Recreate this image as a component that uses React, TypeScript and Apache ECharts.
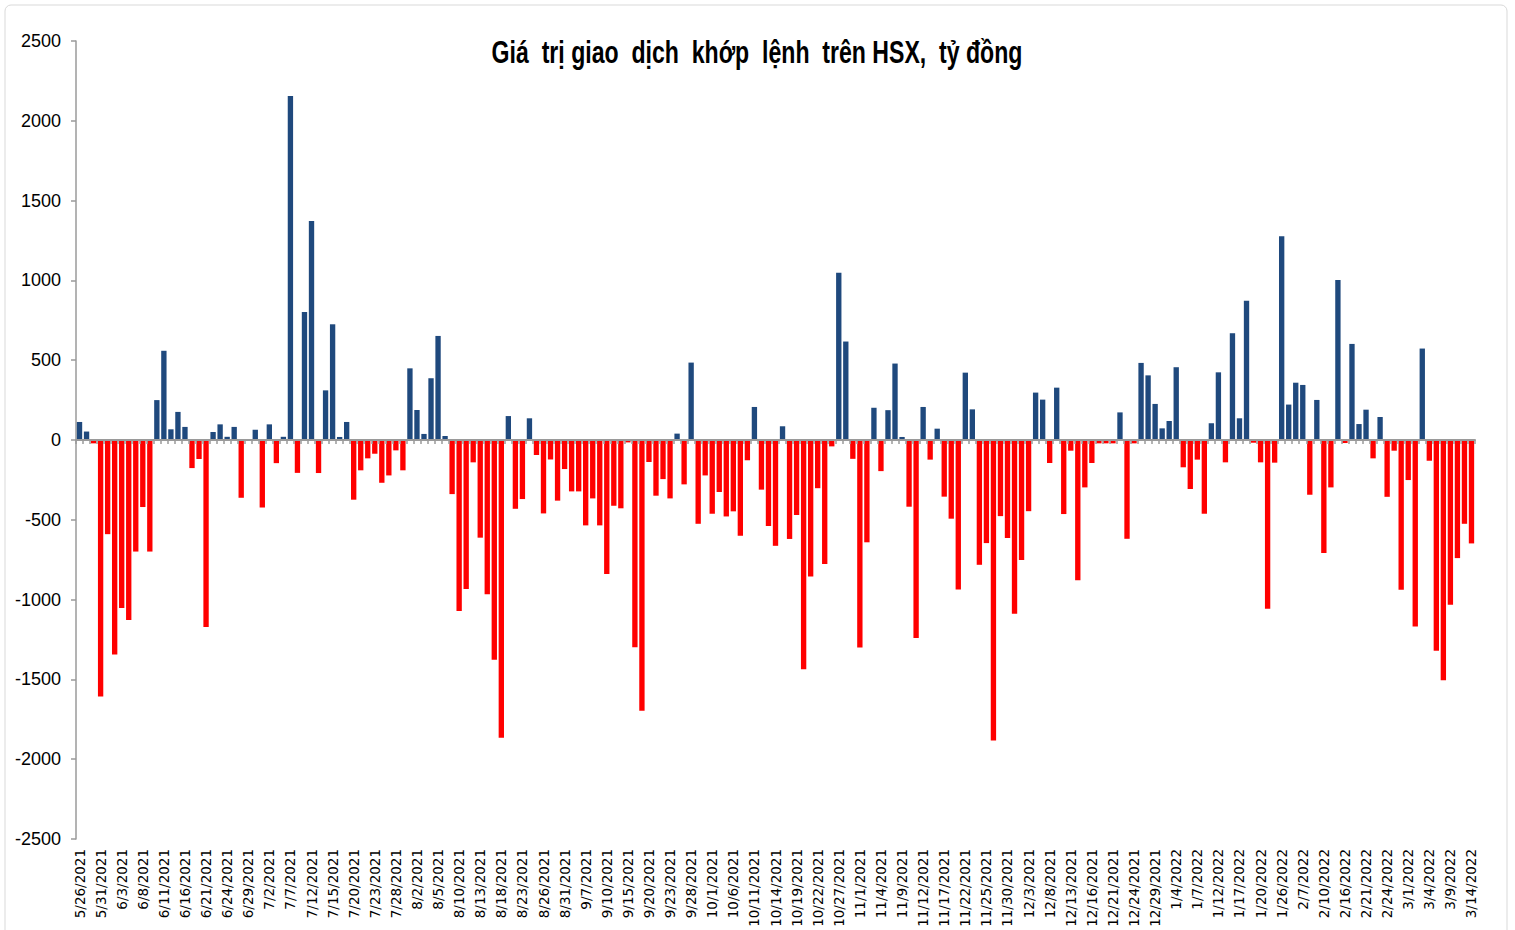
import React, { useEffect, useRef } from "react";
import * as echarts from "echarts";

const dates: string[] = [
  "5/26/2021", "5/27/2021", "5/28/2021", "5/31/2021",
  "6/1/2021", "6/2/2021", "6/3/2021", "6/4/2021", "6/7/2021", "6/8/2021", "6/9/2021", "6/10/2021", "6/11/2021",
  "6/14/2021", "6/15/2021", "6/16/2021", "6/17/2021", "6/18/2021", "6/21/2021", "6/22/2021", "6/23/2021", "6/24/2021",
  "6/25/2021", "6/28/2021", "6/29/2021", "6/30/2021",
  "7/1/2021", "7/2/2021", "7/5/2021", "7/6/2021", "7/7/2021", "7/8/2021", "7/9/2021", "7/12/2021", "7/13/2021",
  "7/14/2021", "7/15/2021", "7/16/2021", "7/19/2021", "7/20/2021", "7/21/2021", "7/22/2021", "7/23/2021",
  "7/26/2021", "7/27/2021", "7/28/2021", "7/29/2021", "7/30/2021",
  "8/2/2021", "8/3/2021", "8/4/2021", "8/5/2021", "8/6/2021", "8/9/2021", "8/10/2021", "8/11/2021", "8/12/2021",
  "8/13/2021", "8/16/2021", "8/17/2021", "8/18/2021", "8/19/2021", "8/20/2021", "8/23/2021", "8/24/2021",
  "8/25/2021", "8/26/2021", "8/27/2021", "8/30/2021", "8/31/2021",
  "9/1/2021", "9/6/2021", "9/7/2021", "9/8/2021", "9/9/2021", "9/10/2021", "9/13/2021", "9/14/2021", "9/15/2021",
  "9/16/2021", "9/17/2021", "9/20/2021", "9/21/2021", "9/22/2021", "9/23/2021", "9/24/2021", "9/27/2021",
  "9/28/2021", "9/29/2021", "9/30/2021",
  "10/1/2021", "10/4/2021", "10/5/2021", "10/6/2021", "10/7/2021", "10/8/2021", "10/11/2021", "10/12/2021",
  "10/13/2021", "10/14/2021", "10/15/2021", "10/18/2021", "10/19/2021", "10/20/2021", "10/21/2021", "10/22/2021",
  "10/25/2021", "10/26/2021", "10/27/2021", "10/28/2021", "10/29/2021",
  "11/1/2021", "11/2/2021", "11/3/2021", "11/4/2021", "11/5/2021", "11/8/2021", "11/9/2021", "11/10/2021",
  "11/11/2021", "11/12/2021", "11/15/2021", "11/16/2021", "11/17/2021", "11/18/2021", "11/19/2021", "11/22/2021",
  "11/23/2021", "11/24/2021", "11/25/2021", "11/26/2021", "11/29/2021", "11/30/2021",
  "12/1/2021", "12/2/2021", "12/3/2021", "12/6/2021", "12/7/2021", "12/8/2021", "12/9/2021", "12/10/2021",
  "12/13/2021", "12/14/2021", "12/15/2021", "12/16/2021", "12/17/2021", "12/20/2021", "12/21/2021", "12/22/2021",
  "12/23/2021", "12/24/2021", "12/27/2021", "12/28/2021", "12/29/2021", "12/30/2021", "12/31/2021",
  "1/4/2022", "1/5/2022", "1/6/2022", "1/7/2022", "1/10/2022", "1/11/2022", "1/12/2022", "1/13/2022", "1/14/2022",
  "1/17/2022", "1/18/2022", "1/19/2022", "1/20/2022", "1/21/2022", "1/25/2022", "1/26/2022", "1/27/2022", "1/28/2022",
  "2/7/2022", "2/8/2022", "2/9/2022", "2/10/2022", "2/11/2022", "2/14/2022", "2/16/2022", "2/17/2022", "2/18/2022",
  "2/21/2022", "2/22/2022", "2/23/2022", "2/24/2022", "2/25/2022", "2/28/2022",
  "3/1/2022", "3/2/2022", "3/3/2022", "3/4/2022", "3/7/2022", "3/8/2022", "3/9/2022", "3/10/2022", "3/11/2022",
  "3/14/2022",
];

const netValues: number[] = [
  113, 53, -21, -1607, -590, -1344, -1052, -1128, -699, -420, -699, 250, 559, 67, 176, 82, -176,
  -119, -1172, 50, 98, 20, 82, -362, 0, 65, -423, 98, -145, 20, 2156, -206, 802, 1372,
  -207, 311, 725, 19, 113, -374, -190, -115, -86, -268, -222, -65, -190, 449, 188, 38, 387,
  652, 25, -339, -1072, -934, -140, -612, -966, -1377, -1866, 150, -431, -370, 136, -94, -460, -122,
  -380, -182, -322, -322, -535, -366, -535, -840, -412, -428, -15, -1298, -1697, -138, -349, -245, -366,
  40, -278, 485, -525, -222, -462, -326, -479, -447, -600, -127, 207, -311, -539, -663, 86, -620,
  -470, -1436, -855, -302, -777, -40, 1048, 617, -118, -1300, -641, 202, -195, 187, 479, 19, -418,
  -1241, 207, -123, 71, -355, -493, -936, 422, 192, -782, -646, -1883, -477, -614, -1089, -752, -446,
  297, 253, -144, 328, -464, -67, -878, -297, -144, -21, -21, -21, 173, -619, -21, 483, 405,
  226, 73, 119, 456, -171, -307, -123, -462, 105, 424, -140, 669, 136, 872, -17, -140, -1058,
  -142, 1277, 222, 359, 345, -343, 251, -708, -297, 1003, -19, 602, 100, 190, -115, 144, -356,
  -67, -938, -251, -1168, 573, -130, -1321, -1505, -1032, -740, -525, -648,
];

const TITLE = "Giá  trị giao  dịch  khớp  lệnh  trên HSX,  tỷ đồng";
const POS_COLOR = "#1F497D";
const NEG_COLOR = "#FF0000";
const AXIS_COLOR = "#9a9a9a";
const SANS = "'Liberation Sans', Arial, sans-serif";

export default function App() {
  const ref = useRef<HTMLDivElement>(null);
  useEffect(() => {
    document.body.style.margin = "0";
    const chart = echarts.init(ref.current!, null, { renderer: "svg" });
    chart.setOption({
      animation: false,
      backgroundColor: "#ffffff",
      graphic: [
        {
          type: "rect",
          shape: { x: 5, y: 5, width: 1502, height: 945, r: 6 },
          style: { fill: "none", stroke: "#d9d9d9", lineWidth: 1 },
          silent: true,
        },
        {
          type: "text",
          x: 757,
          y: 52,
          scaleX: 0.745,
          style: {
            text: TITLE,
            fontFamily: SANS,
            fontWeight: "bold",
            fontSize: 31,
            fill: "#000",
            align: "center",
            verticalAlign: "middle",
          },
          silent: true,
        },
      ],
      grid: {
        left: 76,
        right: 40,
        top: 41,
        bottom: 91,
        containLabel: false,
        outerBoundsMode: "none",
      },
      xAxis: [
        {
          type: "category",
          data: dates,
          position: "bottom",
          axisLine: { show: false, onZero: false },
          axisTick: { show: false },
          axisLabel: {
            interval: 2,
            rotate: 90,
            fontSize: 13.5,
            fontFamily: "'DejaVu Sans', sans-serif",
            color: "#000",
            margin: 10,
          },
        },
        {
          type: "category",
          data: dates,
          position: "bottom",
          z: 10,
          axisLine: { show: true, onZero: true, lineStyle: { color: AXIS_COLOR, width: 2 } },
          axisTick: { show: true, interval: 0, length: 4, lineStyle: { color: AXIS_COLOR, width: 1.5 } },
          axisLabel: { show: false },
        },
      ],
      yAxis: {
        type: "value",
        min: -2500,
        max: 2500,
        interval: 500,
        splitLine: { show: false },
        axisLine: { show: true, lineStyle: { color: AXIS_COLOR, width: 1.5 } },
        axisTick: { show: true, length: 5, lineStyle: { color: AXIS_COLOR, width: 1.5 } },
        axisLabel: {
          fontSize: 18,
          fontFamily: SANS,
          color: "#000",
          margin: 15,
          formatter: (v: number) => String(v),
        },
      },
      series: [
        {
          type: "bar",
          xAxisIndex: 0,
          data: netValues,
          barCategoryGap: "24%",
          itemStyle: {
            color: (p: any) => (p.value >= 0 ? POS_COLOR : NEG_COLOR),
          },
        },
      ],
    });
    return () => chart.dispose();
  }, []);
  return <div ref={ref} style={{ width: 1515, height: 930 }} />;
}
